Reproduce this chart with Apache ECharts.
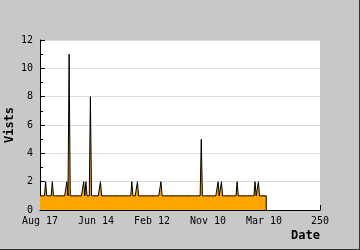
<!DOCTYPE html>
<html>
<head>
<meta charset="utf-8">
<script src="https://cdn.jsdelivr.net/npm/echarts@6/dist/echarts.min.js"></script>
<style>html,body{margin:0;padding:0;background:#c8c8c8;}#c{width:360px;height:250px;}</style>
</head>
<body>
<div id="c"></div>
<script>
// Visits per sample index (0..202)
var visits = [
  1,1,1,1,1,2,1,1,1,1,
  1,2,1,1,1,1,1,1,1,1,
  1,1,1,1,2,1,11,1,1,1,
  1,1,1,1,1,1,1,1,1,2,
  1,2,1,1,1,8,1,1,1,1,
  1,1,1,1,2,1,1,1,1,1,
  1,1,1,1,1,1,1,1,1,1,
  1,1,1,1,1,1,1,1,1,1,
  1,1,2,1,1,1,1,2,1,1,
  1,1,1,1,1,1,1,1,1,1,
  1,1,1,1,1,1,1,1,2,1,
  1,1,1,1,1,1,1,1,1,1,
  1,1,1,1,1,1,1,1,1,1,
  1,1,1,1,1,1,1,1,1,1,
  1,1,1,1,5,1,1,1,1,1,
  1,1,1,1,1,1,1,1,1,2,
  1,1,2,1,1,1,1,1,1,1,
  1,1,1,1,1,1,2,1,1,1,
  1,1,1,1,1,1,1,1,1,1,
  1,1,2,1,1,2,1,1,1,1,
  1,1,1
];
var xTickLabels = ['Aug 17','Jun 14','Feb 12','Nov 10','Mar 10','250'];
var yTicks = [0,2,4,6,8,10,12];

var seriesData = visits.map(function(v,i){return [i,v];});
seriesData.push([visits.length-1, 0]);

var chart = echarts.init(document.getElementById('c'), null, {renderer:'canvas'});
var mono = 'DejaVu Sans Mono';
chart.setOption({
  backgroundColor: '#c8c8c8',
  animation: false,
  grid: {left:40, right:40, top:40, bottom:40, containLabel:false, outerBoundsMode:'none', show:true, backgroundColor:'#ffffff', borderWidth:0},
  xAxis: {
    type:'value', min:0, max:250, interval:50,
    name:'Date', nameLocation:'end', nameGap:0, nameMoveOverlap:false,
    nameTextStyle:{fontFamily:mono, fontWeight:'bold', fontSize:12, color:'#000', align:'right', verticalAlign:'top', padding:[20,0,0,0]},
    axisLine:{show:true, onZero:false, lineStyle:{color:'#000', width:1}},
    axisTick:{show:true, inside:true, length:5, lineStyle:{color:'#000'}},
    splitLine:{show:false},
    axisLabel:{fontFamily:mono, fontSize:10, color:'#000', margin:6,
      formatter:function(v){return xTickLabels[Math.round(v/50)];}}
  },
  yAxis: {
    type:'value', min:yTicks[0], max:yTicks[yTicks.length-1], interval:2,
    name:'Vists', nameLocation:'middle', nameGap:24, nameMoveOverlap:false,
    nameTextStyle:{fontFamily:mono, fontWeight:'bold', fontSize:12, color:'#000'},
    axisLine:{show:true, lineStyle:{color:'#000', width:1}},
    axisTick:{show:true, inside:true, length:5, lineStyle:{color:'#000'}},
    minorTick:{show:true, splitNumber:2, length:3, lineStyle:{color:'#000'}},
    splitLine:{show:true, lineStyle:{color:'#dddddd', width:1}},
    axisLabel:{fontFamily:mono, fontSize:10, color:'#000', margin:7}
  },
  series: [{
    type:'line', data:seriesData, showSymbol:false, symbol:'none',
    lineStyle:{color:'#000', width:1},
    itemStyle:{color:'#000'},
    areaStyle:{color:'#ffa500', opacity:1}
  }],
  graphic: [
    {type:'line', shape:{x1:359.5,y1:0,x2:359.5,y2:250}, style:{stroke:'#333', lineWidth:1}},
    {type:'line', shape:{x1:0,y1:249.5,x2:360,y2:249.5}, style:{stroke:'#333', lineWidth:1}}
  ]
});
</script>
</body>
</html>
